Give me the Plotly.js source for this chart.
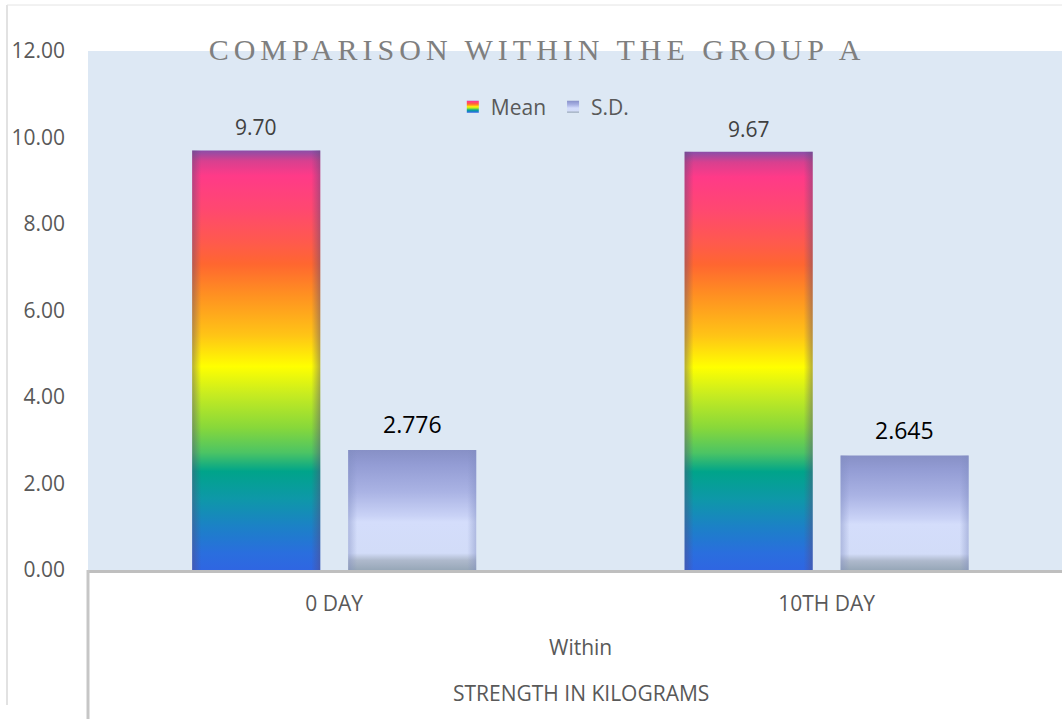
<!DOCTYPE html>
<html>
<head>
<meta charset="utf-8">
<script src="https://cdn.plot.ly/plotly-3.0.1.min.js"></script>
<style>
  html, body { margin: 0; padding: 0; background: #ffffff; }
  #chart { width: 1062px; height: 719px; }
</style>
</head>
<body>
<div id="chart"></div>
<script>
// ---- data ----
const categories = ["0 DAY", "10TH DAY"];
const meanValues = [9.70, 9.67];
const sdValues = [2.776, 2.645];
const seriesNames = ["Mean", "S.D."];
const yTickValues = [0, 2, 4, 6, 8, 10, 12];
const titleText = "COMPARISON WITHIN THE GROUP A";
const level2Label = "Within";
const level3Label = "STRENGTH IN KILOGRAMS";

const FONT = "'Open Sans', 'Noto Sans', sans-serif";

const traces = [
  {
    type: "bar", name: seriesNames[0], x: categories, y: meanValues,
    marker: { color: "#f5a623", line: { width: 0 } },
    hoverinfo: "skip"
  },
  {
    type: "bar", name: seriesNames[1], x: categories, y: sdValues,
    marker: { color: "#a3acdf", line: { width: 0 } },
    hoverinfo: "skip"
  }
];

const annotations = [];
categories.forEach((c, i) => {
  annotations.push({
    x: c, y: meanValues[i], xref: "x", yref: "y", showarrow: false,
    text: meanValues[i].toFixed(2), xshift: -78, yshift: 23, yanchor: "middle",
    font: { family: FONT, size: 21, color: "#404040" }
  });
  annotations.push({
    x: c, y: sdValues[i], xref: "x", yref: "y", showarrow: false,
    text: sdValues[i].toFixed(3), xshift: 78, yshift: 26, yanchor: "middle",
    font: { family: FONT, size: 23, color: "#000000" }
  });
});
annotations.push({
  x: 0.5057, y: -0.148, xref: "paper", yref: "paper", showarrow: false,
  text: level2Label, yanchor: "middle",
  font: { family: FONT, size: 21, color: "#595959" }
});
annotations.push({
  x: 0.5057, y: -0.237, xref: "paper", yref: "paper", showarrow: false,
  text: level3Label, yanchor: "middle",
  font: { family: FONT, size: 21, color: "#595959" }
});

const layout = {
  width: 1062, height: 719,
  margin: { l: 88, r: 0, t: 51, b: 149, pad: 0 },
  paper_bgcolor: "#ffffff",
  plot_bgcolor: "#dde8f4",
  barmode: "group",
  bargap: 0.3665,
  bargroupgap: 0.179,
  showlegend: true,
  legend: {
    orientation: "h", x: 0.469, y: 0.892, xanchor: "center", yanchor: "middle",
    bgcolor: "rgba(0,0,0,0)", font: { family: FONT, size: 21, color: "#595959" },
    itemwidth: 30, itemclick: false, itemdoubleclick: false
  },
  title: {
    text: titleText,
    font: { family: "'Liberation Serif', 'DejaVu Serif', serif", size: 30, color: "#7f7f7f" },
    x: 0.461, xref: "paper", xanchor: "center",
    y: 0.9305, yref: "container", yanchor: "middle"
  },
  xaxis: {
    type: "category", range: [-0.5, 1.478], fixedrange: true,
    showline: true, linecolor: "#bfbfbf", linewidth: 3,
    ticks: "", showgrid: false, zeroline: false,
    tickfont: { family: FONT, size: 21, color: "#595959" },
    ticklabelstandoff: 13
  },
  yaxis: {
    range: [0, 12], fixedrange: true, tickvals: yTickValues, tickformat: ".2f",
    showgrid: false, zeroline: false, showline: false, ticks: "",
    tickfont: { family: FONT, size: 21, color: "#595959" },
    ticklabelstandoff: 22
  },
  annotations: annotations,
  shapes: [
    { type: "line", xref: "paper", yref: "paper", x0: 0, x1: 0, y0: 0, y1: -149 / 519,
      line: { color: "#c6c6c6", width: 3 } },
    { type: "line", xref: "paper", yref: "paper", x0: -81 / 974, x1: -81 / 974,
      y0: (570 - 5) / 519, y1: (570 - 705) / 519, line: { color: "#d9d9d9", width: 1.5 } },
    { type: "line", xref: "paper", yref: "paper", x0: -81 / 974, x1: 1.0,
      y0: (570 - 5) / 519, y1: (570 - 5) / 519, line: { color: "#e4e4e4", width: 1 } }
  ]
};

function addGradients(gd) {
  const svg = gd.querySelector("svg.main-svg");
  const NS = "http://www.w3.org/2000/svg";
  let defs = svg.querySelector("defs");
  if (!defs) { defs = document.createElementNS(NS, "defs"); svg.insertBefore(defs, svg.firstChild); }
  function grad(id, horiz, stops) {
    const g = document.createElementNS(NS, "linearGradient");
    g.setAttribute("id", id);
    g.setAttribute("x1", "0"); g.setAttribute("y1", "0");
    g.setAttribute("x2", horiz ? "1" : "0"); g.setAttribute("y2", horiz ? "0" : "1");
    stops.forEach(s => {
      const st = document.createElementNS(NS, "stop");
      st.setAttribute("offset", s[0]);
      st.setAttribute("stop-color", s[1]);
      if (s[2] !== undefined) st.setAttribute("stop-opacity", s[2]);
      g.appendChild(st);
    });
    defs.appendChild(g);
  }
  grad("gMean", false, [
    [0, "#8a4ea8"], [0.025, "#d8408f"], [0.06, "#ff3a88"], [0.14, "#ff4870"],
    [0.22, "#ff5a4c"], [0.27, "#ff6630"], [0.34, "#ff8e22"], [0.44, "#ffc416"],
    [0.515, "#ffff00"], [0.58, "#c8ec20"], [0.66, "#88d83a"], [0.72, "#4cc464"],
    [0.765, "#00a48a"], [0.83, "#0e98a8"], [0.9, "#1c80c8"], [0.96, "#2a6ede"],
    [1, "#2f66e2"]
  ]);
  grad("gSD", false, [
    [0, "#8790c6"], [0.12, "#939cd4"], [0.35, "#aab3e4"], [0.55, "#c9d2f6"],
    [0.6, "#d4ddfb"], [0.86, "#d2dcf8"], [0.92, "#aeb9cc"], [1, "#97a7b8"]
  ]);
  grad("gEdge", true, [
    [0, "#5a4a7a", 0.45], [0.07, "#5a4a7a", 0], [0.93, "#5a4a7a", 0], [1, "#5a4a7a", 0.45]
  ]);
  grad("gEdgeSD", true, [
    [0, "#7f8cc0", 0.45], [0.07, "#7f8cc0", 0], [0.93, "#7f8cc0", 0], [1, "#7f8cc0", 0.45]
  ]);
  const barTraces = gd.querySelectorAll(".barlayer .trace");
  barTraces.forEach((t, ti) => {
    t.querySelectorAll("path").forEach(p => {
      p.style.fill = ti === 0 ? "url(#gMean)" : "url(#gSD)";
      p.style.fillOpacity = 1;
      const c = p.cloneNode(true);
      c.style.fill = ti === 0 ? "url(#gEdge)" : "url(#gEdgeSD)";
      c.style.pointerEvents = "none";
      p.parentNode.appendChild(c);
    });
  });
  const legendTraces = gd.querySelectorAll(".legend .traces");
  legendTraces.forEach((t, ti) => {
    t.querySelectorAll(".legendpoints path").forEach(p => {
      p.style.fill = ti === 0 ? "url(#gMean)" : "url(#gSD)";
      p.style.stroke = "none";
    });
    const txt = t.querySelector("text.legendtext");
    if (txt) {
      const x0 = parseFloat(txt.getAttribute("x")) || 40;
      txt.setAttribute("x", x0 - 2);
    }
  });
  const tt = gd.querySelector(".gtitle");
  if (tt) tt.style.letterSpacing = "5px";
}

const gd = document.getElementById("chart");
Plotly.newPlot(gd, traces, layout, { displayModeBar: false, staticPlot: false }).then(addGradients);
</script>
</body>
</html>
